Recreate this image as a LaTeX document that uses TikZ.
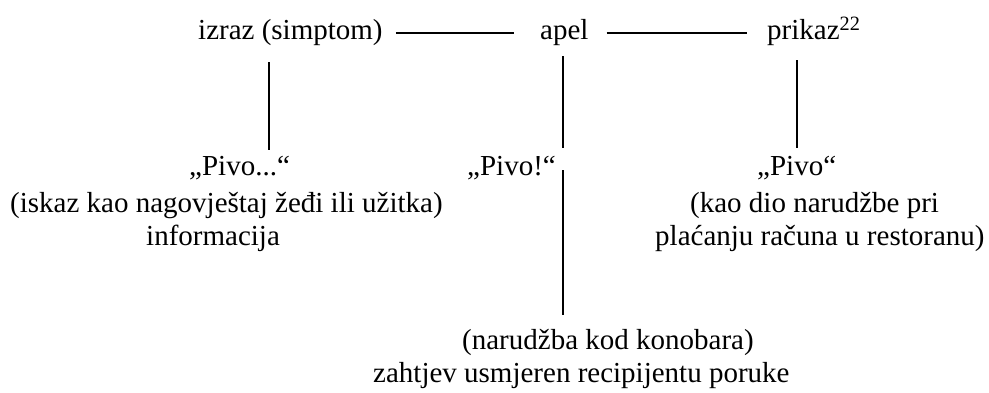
\documentclass[tikz,border=0pt]{standalone}
\usepackage{fontspec}
\setmainfont{Liberation Serif}
\begin{document}
\begin{tikzpicture}[x=1pt,y=-1pt,
  lbl/.style={anchor=base west,inner sep=0pt,text height=20pt,text depth=7pt,font=\fontsize{29}{34}\selectfont},
  conn/.style={line width=1.2pt}]
\useasboundingbox (0,0) rectangle (989,392);
% top row
\node[lbl] (izr) at (198,39.5) {izraz (simptom)};
\node[lbl] (apel) at (540,39.5) {apel};
\node[lbl] (prik) at (767,39.5) {prikaz\textsuperscript{22}};
\draw[conn] ([xshift=13pt]izr.east) -- ([xshift=-26pt]apel.west);
\draw[conn] ([xshift=18pt]apel.east) -- ([xshift=-20pt]prik.west);
% left column
\node[lbl] (l1) at (189,175) {„Pivo...“};
\node[lbl] (l2) at (10,212) {(iskaz kao nagovještaj žeđi ili užitka)};
\node[lbl] (l3) at (146,245) {informacija};
% middle column
\node[lbl,anchor=base east] (m1) at (556,175) {„Pivo!“};
\node[lbl] (m2) at (462,349) {(narudžba kod konobara)};
\node[lbl] (m3) at (373,382) {zahtjev usmjeren recipijentu poruke};
% right column
\node[lbl] (r1) at (757,175) {„Pivo“};
\node[lbl] (r2) at (690,212) {(kao dio narudžbe pri};
\node[lbl] (r3) at (655,245) {plaćanju računa u restoranu)};
% vertical connectors
\coordinate (la) at (269,62);
\coordinate (lb) at (269,150);
\coordinate (ma) at (563,56);
\coordinate (mb) at (563,148);
\coordinate (mc) at (563,170);
\coordinate (md) at (563,315);
\coordinate (ra) at (797,60);
\coordinate (rb) at (797,148);
\draw[conn] (la) -- (lb);
\draw[conn] (ma) -- (mb);
\draw[conn] (mc) -- (md);
\draw[conn] (ra) -- (rb);
\end{tikzpicture}
\end{document}
